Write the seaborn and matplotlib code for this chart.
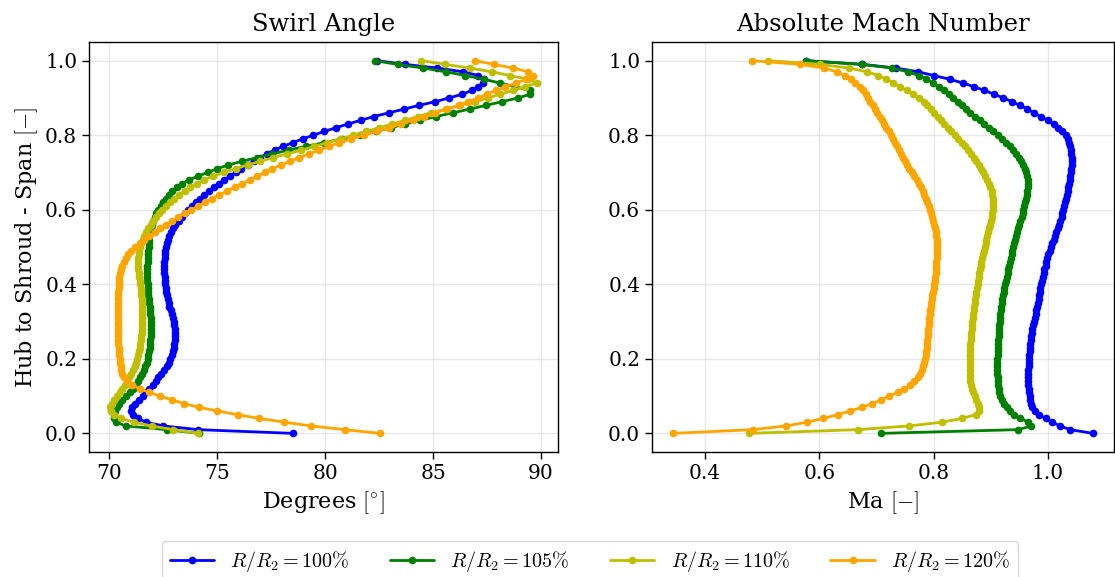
import matplotlib
matplotlib.use("Agg")
import matplotlib.pyplot as plt
import seaborn as sns
import pandas as pd

# ---------------- data ----------------
span = [0.00, 0.01, 0.02, 0.03, 0.04, 0.05, 0.06, 0.07, 0.08, 0.09,
        0.10, 0.11, 0.12, 0.13, 0.14, 0.15, 0.16, 0.17, 0.18, 0.19,
        0.20, 0.21, 0.22, 0.23, 0.24, 0.25, 0.26, 0.27, 0.28, 0.29,
        0.30, 0.31, 0.32, 0.33, 0.34, 0.35, 0.36, 0.37, 0.38, 0.39,
        0.40, 0.41, 0.42, 0.43, 0.44, 0.45, 0.46, 0.47, 0.48, 0.49,
        0.50, 0.51, 0.52, 0.53, 0.54, 0.55, 0.56, 0.57, 0.58, 0.59,
        0.60, 0.61, 0.62, 0.63, 0.64, 0.65, 0.66, 0.67, 0.68, 0.69,
        0.70, 0.71, 0.72, 0.73, 0.74, 0.75, 0.76, 0.77, 0.78, 0.79,
        0.80, 0.81, 0.82, 0.83, 0.84, 0.85, 0.86, 0.87, 0.88, 0.89,
        0.90, 0.91, 0.92, 0.93, 0.94, 0.95, 0.96, 0.97, 0.98, 0.99,
        1.00]

case_labels = [r"$R/R_2 = 100\%$", r"$R/R_2 = 105\%$",
               r"$R/R_2 = 110\%$", r"$R/R_2 = 120\%$"]
case_colors = ["#0000ff", "#008000", "#bfbf00", "#ffa500"]

# Swirl angle [deg]
swirl_100 = [78.5, 74.1, 72.5, 71.7, 71.3, 71.1, 71.0, 71.05, 71.2, 71.35,
             71.55, 71.7, 71.85, 72.0, 72.15, 72.25, 72.4, 72.55, 72.65, 72.75,
             72.82, 72.88, 72.93, 72.97, 73.0, 73.02, 73.03, 73.03, 73.02, 73.0,
             72.97, 72.93, 72.88, 72.83, 72.78, 72.74, 72.7, 72.66, 72.63, 72.6,
             72.58, 72.57, 72.56, 72.55, 72.55, 72.55, 72.55, 72.56, 72.57, 72.59,
             72.62, 72.66, 72.7, 72.76, 72.84, 72.94, 73.06, 73.2, 73.35, 73.5,
             73.65, 73.82, 74.0, 74.2, 74.4, 74.62, 74.85, 75.08, 75.32, 75.58,
             75.85, 76.1, 76.4, 76.68, 76.98, 77.28, 77.65, 78.05, 78.5, 78.95,
             79.45, 79.95, 80.5, 81.05, 81.65, 82.25, 82.95, 83.65, 84.35, 85.1,
             85.75, 86.35, 86.8, 87.1, 87.3, 87.35, 87.1, 86.4, 85.2, 83.7,
             82.4]
swirl_105 = [74.15, 72.65, 70.75, 70.3, 70.2, 70.2, 70.25, 70.33, 70.45, 70.6,
             70.78, 70.95, 71.1, 71.22, 71.33, 71.43, 71.52, 71.6, 71.66, 71.72,
             71.77, 71.8, 71.83, 71.86, 71.88, 71.9, 71.92, 71.93, 71.94, 71.94,
             71.93, 71.92, 71.9, 71.88, 71.86, 71.84, 71.82, 71.8, 71.79, 71.78,
             71.77, 71.76, 71.76, 71.76, 71.76, 71.76, 71.77, 71.78, 71.79, 71.8,
             71.81, 71.82, 71.83, 71.85, 71.88, 71.92, 71.97, 72.03, 72.1, 72.18,
             72.27, 72.37, 72.48, 72.6, 72.75, 72.92, 73.12, 73.35, 73.7, 74.1,
             74.55, 75.0, 75.5, 76.15, 76.85, 77.55, 78.3, 79.1, 79.95, 80.8,
             81.6, 82.35, 83.05, 83.7, 84.4, 85.15, 85.9, 86.7, 87.45, 88.2,
             88.95, 89.5, 89.5, 88.8, 88.1, 87.35, 86.5, 85.6, 84.55, 83.35,
             82.3]
swirl_110 = [74.1, 72.95, 71.95, 71.15, 70.55, 70.2, 70.07, 70.04, 70.1, 70.22,
             70.35, 70.48, 70.6, 70.7, 70.8, 70.9, 71.0, 71.08, 71.17, 71.23,
             71.28, 71.32, 71.36, 71.4, 71.43, 71.46, 71.48, 71.5, 71.51, 71.52,
             71.53, 71.53, 71.53, 71.53, 71.52, 71.51, 71.5, 71.48, 71.46, 71.44,
             71.42, 71.4, 71.38, 71.36, 71.34, 71.33, 71.33, 71.34, 71.36, 71.39,
             71.43, 71.48, 71.54, 71.62, 71.7, 71.8, 71.91, 72.03, 72.16, 72.3,
             72.45, 72.62, 72.8, 73.0, 73.22, 73.48, 73.75, 74.05, 74.4, 74.8,
             75.3, 75.85, 76.4, 77.0, 77.6, 78.25, 78.9, 79.5, 80.1, 80.7,
             81.3, 81.9, 82.5, 83.1, 83.7, 84.3, 84.9, 85.6, 86.25, 86.95,
             87.55, 88.1, 88.7, 89.25, 89.8, 89.42, 88.57, 87.72, 86.72, 85.54,
             84.46]
swirl_120 = [82.55, 80.9, 79.35, 78.1, 76.95, 75.95, 75.0, 74.15, 73.45, 72.9,
             72.35, 71.85, 71.4, 71.05, 70.82, 70.68, 70.6, 70.55, 70.52, 70.5,
             70.47, 70.45, 70.43, 70.42, 70.41, 70.4, 70.39, 70.38, 70.38, 70.38,
             70.38, 70.38, 70.38, 70.38, 70.39, 70.39, 70.4, 70.4, 70.41, 70.42,
             70.43, 70.44, 70.46, 70.5, 70.55, 70.6, 70.68, 70.77, 70.88, 71.02,
             71.2, 71.4, 71.62, 71.85, 72.1, 72.35, 72.62, 72.9, 73.18, 73.48,
             73.8, 74.12, 74.42, 74.75, 75.1, 75.45, 75.8, 76.15, 76.5, 76.85,
             77.2, 77.55, 77.95, 78.35, 78.8, 79.25, 79.72, 80.18, 80.65, 81.2,
             81.8, 82.4, 82.95, 83.5, 84.05, 84.6, 85.1, 85.64, 86.18, 86.64,
             87.1, 87.5, 87.9, 88.35, 88.85, 89.3, 89.65, 89.4, 88.72, 87.8,
             86.95]

# Absolute Mach number [-]
mach_100 = [1.079, 1.039, 1.021, 1.0075, 0.996, 0.985, 0.977, 0.972, 0.970, 0.969,
            0.968, 0.967, 0.9665, 0.966, 0.966, 0.966, 0.966, 0.966, 0.9665, 0.967,
            0.967, 0.9675, 0.968, 0.969, 0.9695, 0.970, 0.971, 0.972, 0.973, 0.9745,
            0.976, 0.977, 0.9785, 0.980, 0.9815, 0.983, 0.984, 0.985, 0.986, 0.987,
            0.988, 0.990, 0.991, 0.9925, 0.994, 0.996, 0.9975, 0.999, 1.001, 1.003,
            1.005, 1.008, 1.0105, 1.013, 1.015, 1.017, 1.0195, 1.022, 1.024, 1.0255,
            1.027, 1.0285, 1.030, 1.0315, 1.033, 1.0345, 1.036, 1.037, 1.038, 1.039,
            1.040, 1.041, 1.042, 1.042, 1.0415, 1.041, 1.0405, 1.039, 1.0375, 1.035,
            1.031, 1.025, 1.018, 1.010, 0.9995, 0.9875, 0.975, 0.964, 0.951, 0.937,
            0.922, 0.906, 0.889, 0.871, 0.851, 0.828, 0.801, 0.773, 0.735, 0.675,
            0.576]
mach_105 = [0.7075, 0.948, 0.971, 0.966, 0.952, 0.941, 0.933, 0.928, 0.923, 0.9195,
            0.917, 0.915, 0.914, 0.913, 0.9125, 0.912, 0.9115, 0.9115, 0.9115, 0.9115,
            0.9115, 0.912, 0.912, 0.9125, 0.913, 0.9135, 0.914, 0.914, 0.9145, 0.915,
            0.916, 0.9165, 0.917, 0.9178, 0.9185, 0.9195, 0.9205, 0.9215, 0.9228, 0.924,
            0.9255, 0.927, 0.928, 0.9295, 0.931, 0.932, 0.9335, 0.935, 0.9365, 0.938,
            0.9395, 0.941, 0.9425, 0.944, 0.946, 0.948, 0.950, 0.952, 0.954, 0.9557,
            0.957, 0.9585, 0.960, 0.9615, 0.963, 0.964, 0.965, 0.9655, 0.965, 0.9635,
            0.962, 0.960, 0.957, 0.9535, 0.949, 0.9445, 0.9395, 0.934, 0.9275, 0.9205,
            0.9125, 0.9045, 0.8965, 0.8885, 0.8805, 0.8725, 0.8645, 0.857, 0.8495, 0.842,
            0.8345, 0.827, 0.8185, 0.8095, 0.799, 0.7875, 0.774, 0.755, 0.728, 0.674,
            0.5764]
mach_110 = [0.477, 0.668, 0.7575, 0.815, 0.8494, 0.8735, 0.879, 0.880, 0.878, 0.875,
            0.872, 0.869, 0.867, 0.8655, 0.8645, 0.864, 0.8635, 0.863, 0.863, 0.863,
            0.863, 0.8632, 0.8635, 0.864, 0.8645, 0.865, 0.8655, 0.866, 0.8665, 0.867,
            0.8678, 0.8685, 0.8692, 0.870, 0.871, 0.872, 0.873, 0.874, 0.875, 0.876,
            0.877, 0.878, 0.879, 0.880, 0.881, 0.8822, 0.8835, 0.885, 0.8865, 0.888,
            0.8895, 0.891, 0.8925, 0.894, 0.8955, 0.897, 0.8985, 0.900, 0.9015, 0.9028,
            0.904, 0.9045, 0.9045, 0.904, 0.903, 0.9015, 0.8995, 0.897, 0.894, 0.8905,
            0.887, 0.883, 0.879, 0.8745, 0.870, 0.865, 0.860, 0.8545, 0.849, 0.843,
            0.837, 0.831, 0.825, 0.819, 0.813, 0.807, 0.801, 0.795, 0.789, 0.7825,
            0.775, 0.7645, 0.753, 0.741, 0.7295, 0.717, 0.703, 0.684, 0.6525, 0.601,
            0.5103]
mach_120 = [0.344, 0.4835, 0.542, 0.578, 0.607, 0.632, 0.654, 0.675, 0.693, 0.708,
            0.7225, 0.737, 0.749, 0.759, 0.7665, 0.772, 0.7765, 0.779, 0.781, 0.7835,
            0.785, 0.7865, 0.7875, 0.788, 0.7885, 0.789, 0.7895, 0.790, 0.791, 0.7915,
            0.792, 0.7928, 0.7935, 0.7942, 0.795, 0.796, 0.797, 0.798, 0.799, 0.800,
            0.801, 0.802, 0.803, 0.8035, 0.804, 0.8045, 0.805, 0.8055, 0.806, 0.806,
            0.806, 0.8057, 0.8052, 0.8045, 0.8035, 0.802, 0.801, 0.7995, 0.798, 0.796,
            0.794, 0.7915, 0.789, 0.7865, 0.784, 0.781, 0.778, 0.775, 0.7715, 0.7665,
            0.762, 0.7575, 0.754, 0.7505, 0.747, 0.7435, 0.740, 0.7365, 0.733, 0.729,
            0.7255, 0.7215, 0.7175, 0.7135, 0.7095, 0.7055, 0.7015, 0.6975, 0.6935, 0.6895,
            0.6855, 0.681, 0.6765, 0.6705, 0.6625, 0.6555, 0.6455, 0.6305, 0.6085, 0.5667,
            0.4816]

swirl_series = [swirl_100, swirl_105, swirl_110, swirl_120]
mach_series = [mach_100, mach_105, mach_110, mach_120]

x_ticks_swirl = [70, 75, 80, 85, 90]
x_ticks_mach = [0.4, 0.6, 0.8, 1.0]
y_ticks = [0.0, 0.2, 0.4, 0.6, 0.8, 1.0]

# ---------------- style ----------------
sns.set_theme(style="whitegrid")
plt.rcParams["font.family"] = ["DejaVu Serif"]
plt.rcParams["mathtext.fontset"] = "cm"
plt.rcParams.update({
    "text.color": "black",
    "axes.labelcolor": "black",
    "axes.titlecolor": "black",
    "axes.edgecolor": "black",
    "axes.linewidth": 1.0,
    "grid.color": "#d9d9d9",
    "grid.linewidth": 1.0,
    "xtick.bottom": True,
    "ytick.left": True,
    "xtick.major.size": 5,
    "ytick.major.size": 5,
    "xtick.major.width": 1.0,
    "ytick.major.width": 1.0,
    "xtick.color": "black",
    "ytick.color": "black",
    "xtick.labelsize": 14.5,
    "ytick.labelsize": 14.5,
})

W, H = 1115, 577
fig = plt.figure(figsize=(W / 100, H / 100), dpi=100)
ax1 = fig.add_axes([89 / W, 1 - 452 / H, (558 - 89) / W, 410 / H])
ax2 = fig.add_axes([652 / W, 1 - 452 / H, (1114 - 652) / W, 410 / H])

for vals, col, lab in zip(swirl_series, case_colors, case_labels):
    sns.lineplot(x=vals, y=span, sort=False, estimator=None, color=col,
                 marker="o", markersize=5.5, markeredgewidth=0, linewidth=2,
                 label=lab, ax=ax1)
for vals, col, lab in zip(mach_series, case_colors, case_labels):
    sns.lineplot(x=vals, y=span, sort=False, estimator=None, color=col,
                 marker="o", markersize=5.5, markeredgewidth=0, linewidth=2,
                 label=lab, ax=ax2)

handles, labels = ax1.get_legend_handles_labels()
ax1.get_legend().remove()
ax2.get_legend().remove()

ax1.set_title("Swirl Angle", fontsize=17.5, pad=8)
ax2.set_title("Absolute Mach Number", fontsize=17.5, pad=8)
ax1.set_xlabel(r"Degrees $[^{\circ}]$", fontsize=16, labelpad=5)
ax2.set_xlabel(r"Ma $[-]$", fontsize=16, labelpad=5)
ax1.set_ylabel(r"Hub to Shroud - Span $[-]$", fontsize=16, labelpad=4)
ax2.set_ylabel("")

ax1.set_xticks(x_ticks_swirl)
ax2.set_xticks(x_ticks_mach)
for ax in (ax1, ax2):
    ax.set_yticks(y_ticks)
    ax.set_ylim(-0.05, 1.05)
    ax.grid(True, alpha=0.6)
    for s in ax.spines.values():
        s.set_color("black")

fig.legend(handles, labels, loc="upper center", bbox_to_anchor=(590 / W, 1 - 531 / H),
           ncol=4, fontsize=14.5, frameon=True, edgecolor="#cccccc",
           handlelength=2.2, columnspacing=2.0)

fig.savefig("out.png", dpi=100)
